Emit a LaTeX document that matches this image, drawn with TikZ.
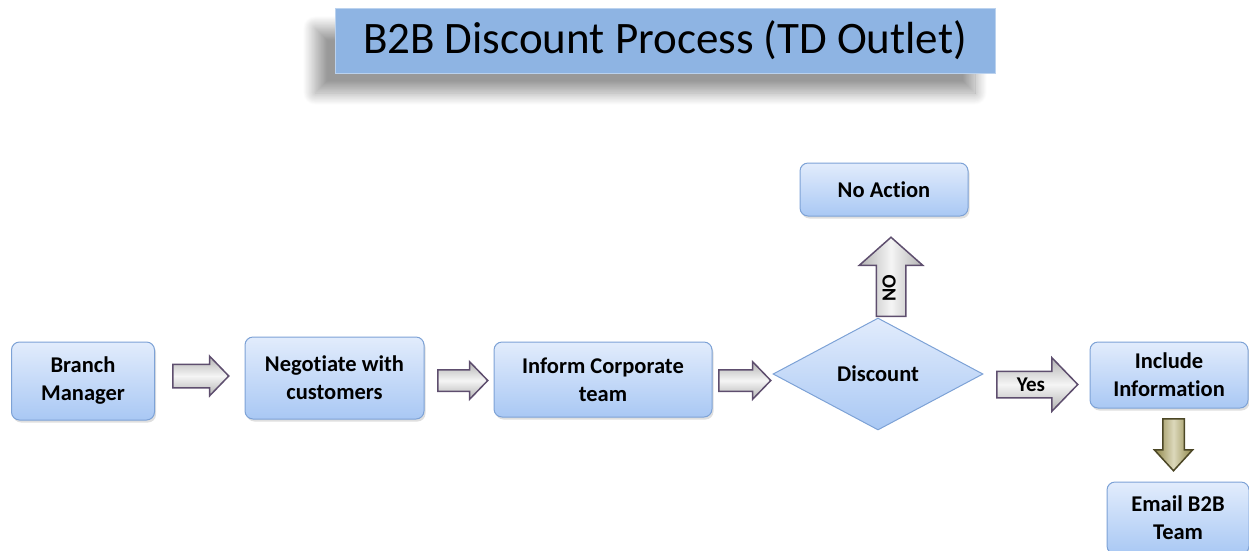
\documentclass[tikz,border=0pt]{standalone}
\usepackage{fontspec}
\setmainfont{Carlito}[Ligatures=CommonOff]
\usetikzlibrary{shapes.geometric,shapes.arrows,shadows,shadows.blur}
\definecolor{boxtop}{HTML}{E2ECFC}
\definecolor{boxbot}{HTML}{A9C8F4}
\definecolor{boxline}{HTML}{7DA2D6}
\definecolor{titlefill}{HTML}{8EB4E3}
\definecolor{arrline}{HTML}{5E4E6E}
\definecolor{olive}{HTML}{A89E55}
\tikzset{
  stepbox/.style={rectangle, rounded corners=8pt, draw=boxline, line width=1pt,
    top color=boxtop, bottom color=boxbot, align=center, font=\bfseries\fontsize{22.5}{28}\selectfont,
    drop shadow={opacity=0.25, shadow xshift=1.5pt, shadow yshift=-2.5pt}},
  decide/.style={diamond, draw=boxline, line width=1pt, top color=boxtop, bottom color=boxbot,
    inner sep=0pt, font=\bfseries\fontsize{22.5}{28}\selectfont},
  blockarr/.style={single arrow, draw=arrline, line width=1.5pt, inner xsep=0pt, inner ysep=11pt,
    single arrow head extend=8pt, single arrow tip angle=92, single arrow head indent=0pt,
    top color=gray!60, bottom color=gray!60, middle color=gray!8, anchor=tail},
}
\begin{document}
\begin{tikzpicture}[x=1pt,y=-1pt]
\useasboundingbox (0,0) rectangle (1249,550);
% title
\node[rectangle, draw=titlefill!60!white, line width=1pt, fill=titlefill, minimum width=660, minimum height=65,
  blur shadow={shadow xshift=-20pt, shadow yshift=-20pt, shadow blur steps=20, shadow blur radius=12pt, shadow opacity=40},
  font=\fontsize{45}{52}\selectfont] (title) at (665,40.5) {B2B Discount Process (TD Outlet)};
% steps
\node[stepbox, minimum width=143, minimum height=78] (bm) at (83,381) {Branch\\Manager};
\node[stepbox, minimum width=179, minimum height=82] (neg) at (334.5,378) {Negotiate with\\customers};
\node[stepbox, minimum width=218, minimum height=75] (inf) at (603,379.5) {Inform Corporate\\team};
\node[decide, minimum width=210, minimum height=112, aspect=1.875] (disc) at (878,374) {Discount};
\node[stepbox, minimum width=168, minimum height=53] (noact) at (884,189.5) {No Action};
\node[stepbox, minimum width=158, minimum height=66] (incl) at (1169,375) {Include\\Information};
\node[stepbox, minimum width=142, minimum height=72] (email) at (1178,518) {Email B2B\\Team};
% arrows
\node[blockarr, minimum height=56] (a1) at (172,376) {};
\node[blockarr, minimum height=50, inner ysep=10pt] (a2) at (437,380.5) {};
\node[blockarr, minimum height=52, inner ysep=10pt] (a3) at (718,380.5) {};
\node[blockarr, minimum height=81, inner ysep=5.5pt, inner xsep=3pt, text height=14pt, text depth=0pt,
  single arrow head extend=13.5pt, font=\bfseries\fontsize{21}{24}\selectfont] (yes) at (996,384.5) {Yes\hspace{16pt}};
\node[blockarr, minimum height=79, inner sep=14pt, shape border rotate=90, single arrow head extend=17pt,
  single arrow tip angle=97, left color=gray!60, right color=gray!60, middle color=gray!8] (no) at (891,317) {};
\node[rotate=90, font=\bfseries\fontsize{20}{24}\selectfont] (nolbl) at (889,288) {NO};
\node[blockarr, minimum height=52, inner sep=10pt, shape border rotate=270, single arrow head extend=8.5pt,
  single arrow tip angle=85, draw=olive!45!black, left color=olive!85!black, right color=olive!85!black,
  middle color=olive!40!white] (down) at (1173.5,418) {};
\end{tikzpicture}
\end{document}
